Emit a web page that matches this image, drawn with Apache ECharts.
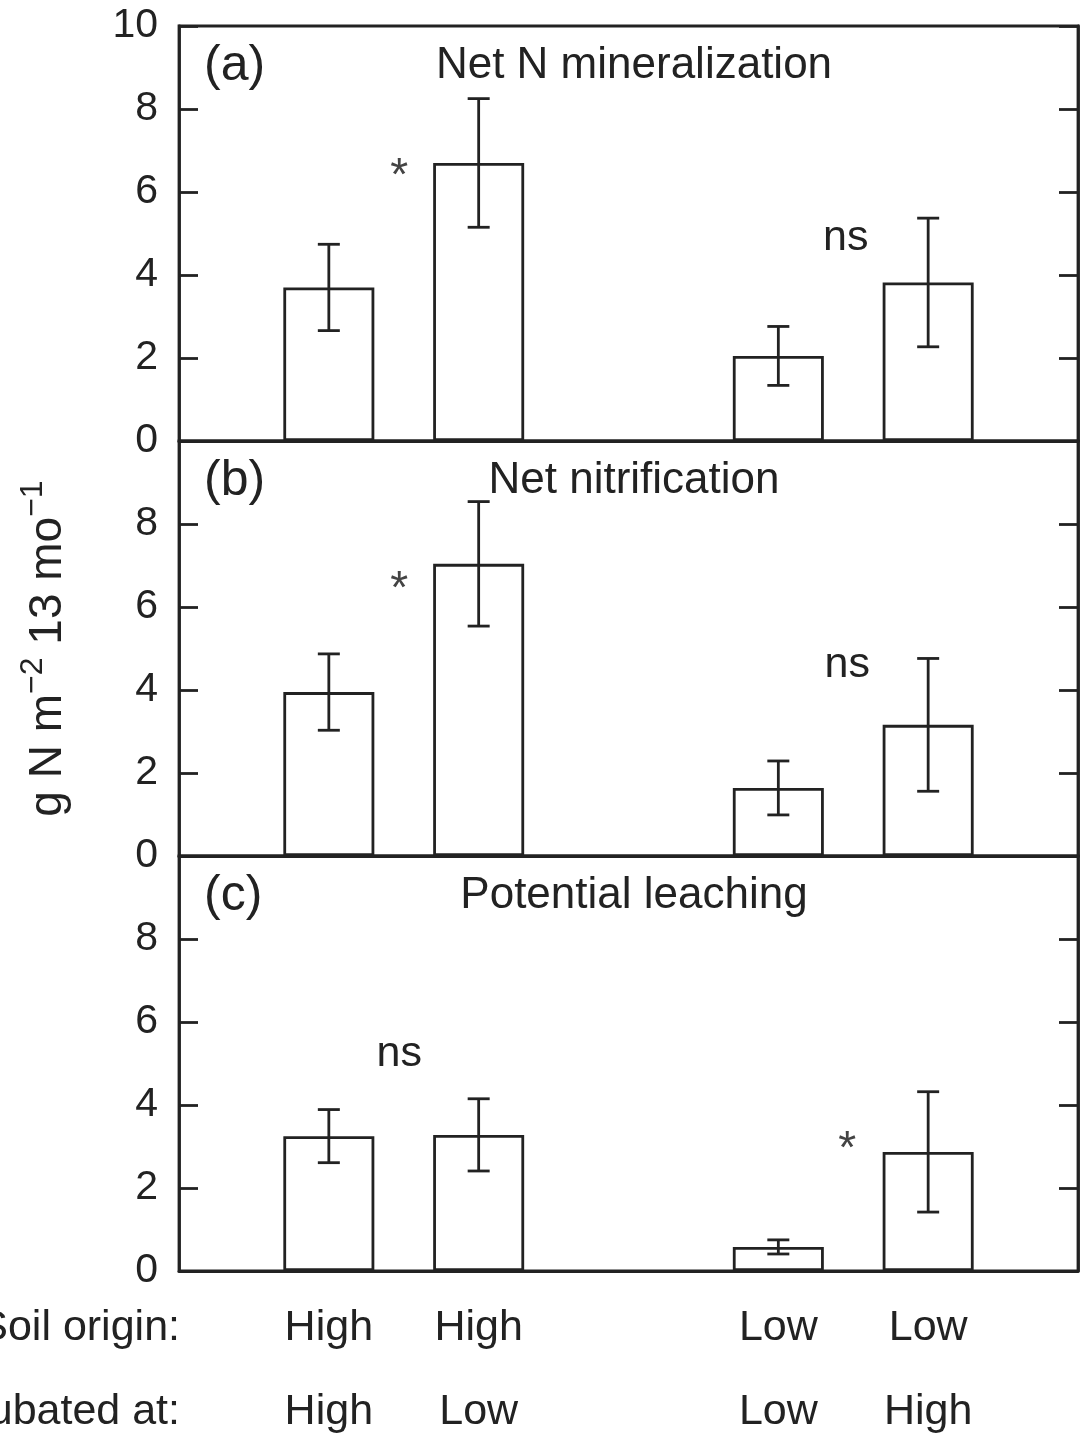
<!DOCTYPE html>
<html>
<head>
<meta charset="utf-8">
<script src="https://cdn.jsdelivr.net/npm/echarts@6/dist/echarts.min.js"></script>
<style>
  html, body { margin: 0; padding: 0; background: #fff; }
  #chart { width: 1086px; height: 1438px; }
</style>
</head>
<body>
<div id="chart"></div>
<script>
// treatment positions on the x scale (gap between the two soil origins)
var positions = [1, 2, 4, 5];
var soilOrigin = ['High', 'High', 'Low', 'Low'];
var incubatedAt = ['High', 'Low', 'Low', 'High'];

var panelNames = ['(a)', '(b)', '(c)'];
var panelTitles = ['Net N mineralization', 'Net nitrification', 'Potential leaching'];

// means and error (±) per panel
var mineralMean = [3.7, 6.7, 2.05, 3.82];
var mineralErr = [1.04, 1.55, 0.71, 1.55];
var nitrifMean = [3.95, 7.04, 1.64, 3.16];
var nitrifErr = [0.92, 1.5, 0.65, 1.6];
var leachMean = [3.25, 3.28, 0.58, 2.87];
var leachErr = [0.64, 0.87, 0.17, 1.45];

// significance marks: [x, y, text]
var mineralSig = [[1.47, 6.35, '*'], [4.45, 4.9, 'ns']];
var nitrifSig = [[1.47, 6.4, '*'], [4.46, 4.6, 'ns']];
var leachSig = [[1.47, 5.23, 'ns'], [4.46, 2.92, '*']];

var FONT = 'Liberation Sans';
var INK = '#222';
var LW = 2.8;
var grids = [26, 441, 856];
var panelH = 415;

var means = [mineralMean, nitrifMean, leachMean];
var errs = [mineralErr, nitrifErr, leachErr];
var sigs = [mineralSig, nitrifSig, leachSig];

var myChart = echarts.init(document.getElementById('chart'));

var option = {
  backgroundColor: '#fff',
  animation: false,
  grid: [], xAxis: [], yAxis: [], series: [],
  graphic: []
};

for (var p = 0; p < 3; p++) {
  var last = p === 2;
  option.grid.push({
    left: 179, width: 899, top: grids[p], height: panelH,
    outerBoundsMode: 'none', containLabel: false,
    show: true, borderColor: INK, borderWidth: LW, backgroundColor: 'transparent'
  });
  option.xAxis.push({
    type: 'value', gridIndex: p, min: 0, max: 6, interval: 1,
    axisLine: { show: true, lineStyle: { color: INK, width: LW } },
    axisTick: { show: false },
    splitLine: { show: false },
    axisLabel: {
      show: last,
      fontFamily: FONT, fontSize: 43, color: INK,
      lineHeight: 84, margin: 15,
      formatter: function (v) {
        var i = positions.indexOf(v);
        return i < 0 ? '' : soilOrigin[i] + '\n' + incubatedAt[i];
      }
    }
  });
  var showTop = p === 0;
  option.yAxis.push({
    type: 'value', gridIndex: p, min: 0, max: 10, interval: 2,
    axisLine: { show: true, lineStyle: { color: INK, width: LW } },
    axisTick: { show: true, inside: true, length: 19, lineStyle: { color: INK, width: LW } },
    splitLine: { show: false },
    axisLabel: {
      fontFamily: FONT, fontSize: 41, color: INK, margin: 21,
      formatter: (function (st) {
        return function (v) { return (v === 10 && !st) ? '' : String(v); };
      })(showTop)
    },
    name: p === 1 ? '{m|g N m}{s|\u22122}{m| 13 mo}{s|\u22121}' : '',
    nameLocation: 'middle', nameRotate: 90, nameGap: 100,
    nameTextStyle: {
      color: INK,
      rich: {
        m: { fontFamily: FONT, fontSize: 46, lineHeight: 62, color: INK },
        s: { fontFamily: FONT, fontSize: 32, lineHeight: 30, verticalAlign: 'top', color: INK }
      }
    }
  });
  option.yAxis.push({
    type: 'value', gridIndex: p, min: 0, max: 10, interval: 2, position: 'right',
    axisLine: { show: true, lineStyle: { color: INK, width: LW } },
    axisTick: { show: true, inside: true, length: 19, lineStyle: { color: INK, width: LW } },
    axisLabel: { show: false },
    splitLine: { show: false }
  });

  var barData = positions.map(function (x, i) { return [x, means[p][i]]; });
  var errData = positions.map(function (x, i) { return [x, means[p][i], errs[p][i]]; });

  option.series.push({
    type: 'bar', xAxisIndex: p, yAxisIndex: p * 2,
    data: barData, barWidth: 91,
    itemStyle: { color: '#fff', borderColor: INK, borderWidth: LW },
    z: 2
  });
  option.series.push({
    type: 'custom', xAxisIndex: p, yAxisIndex: p * 2,
    data: errData, z: 3,
    renderItem: function (params, api) {
      var x = api.value(0), m = api.value(1), e = api.value(2);
      var hi = api.coord([x, m + e]);
      var lo = api.coord([x, m - e]);
      var style = { stroke: INK, lineWidth: LW };
      return {
        type: 'group',
        children: [
          { type: 'line', shape: { x1: hi[0], y1: hi[1], x2: lo[0], y2: lo[1] }, style: style },
          { type: 'line', shape: { x1: hi[0] - 11, y1: hi[1], x2: hi[0] + 11, y2: hi[1] }, style: style },
          { type: 'line', shape: { x1: lo[0] - 11, y1: lo[1], x2: lo[0] + 11, y2: lo[1] }, style: style }
        ]
      };
    }
  });
  option.series.push({
    type: 'custom', xAxisIndex: p, yAxisIndex: p * 2,
    data: sigs[p], z: 4,
    renderItem: (function (list) {
      return function (params, api) {
        var pt = api.coord([api.value(0), api.value(1)]);
        var txt = list[params.dataIndex][2];
        var star = txt === '*';
        return {
          type: 'text', x: pt[0], y: pt[1],
          style: {
            text: txt, fontFamily: FONT, fontSize: star ? 46 : 43,
            fill: star ? '#444' : INK, align: 'center', verticalAlign: 'middle'
          }
        };
      };
    })(sigs[p])
  });

  option.graphic.push({
    type: 'text', left: 204, top: grids[p] + 15,
    style: { text: panelNames[p], fontFamily: FONT, fontSize: 50, fill: INK }
  });
  option.graphic.push({
    type: 'text', x: 634, y: grids[p] + 40,
    style: { text: panelTitles[p], fontFamily: FONT, fontSize: 44, fill: INK, align: 'center', verticalAlign: 'middle' }
  });
}

option.graphic.push({
  type: 'text', x: 180, y: 1328,
  style: { text: 'Soil origin:', fontFamily: FONT, fontSize: 43, fill: INK, align: 'right', verticalAlign: 'middle' }
});
option.graphic.push({
  type: 'text', x: 180, y: 1412,
  style: { text: 'Incubated at:', fontFamily: FONT, fontSize: 43, fill: INK, align: 'right', verticalAlign: 'middle' }
});

myChart.setOption(option);
</script>
</body>
</html>
